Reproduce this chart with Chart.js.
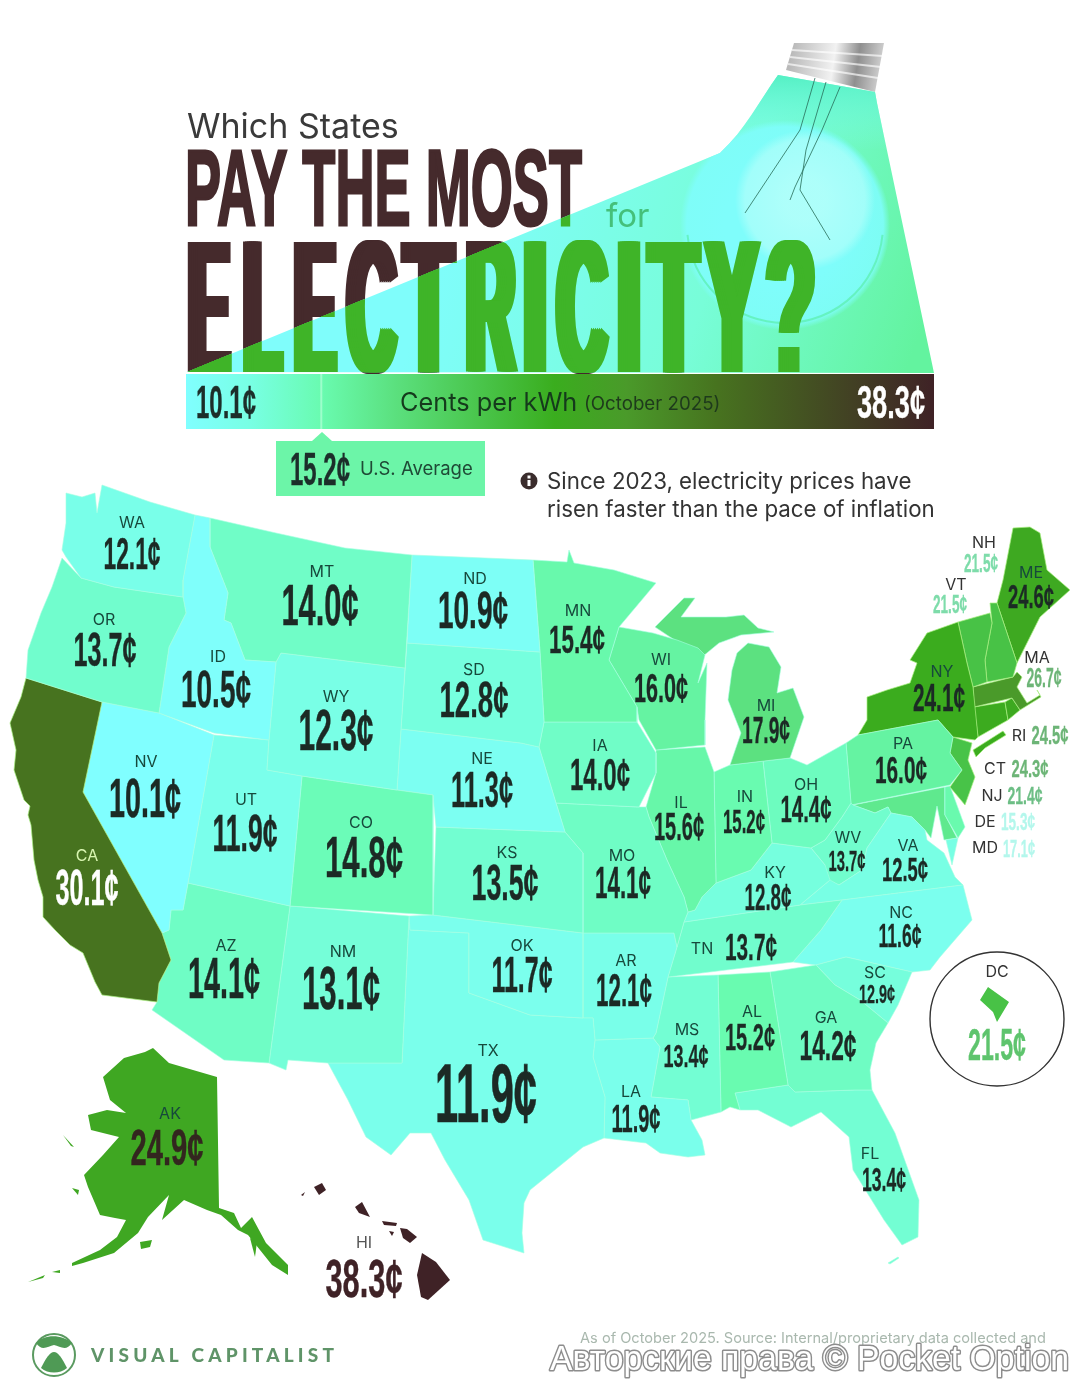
<!DOCTYPE html>
<html>
<head>
<meta charset="utf-8">
<title>Which States Pay the Most for Electricity?</title>
<script src="https://cdn.jsdelivr.net/npm/chart.js@4"></script>
<style>
  html, body { margin: 0; padding: 0; background: #fff; }
  canvas { display: block; }
</style>
</head>
<body>
<canvas id="mapChart" width="1080" height="1379"></canvas>
<script>
// cents per kWh, October 2025
const stateCodes = ['WA','OR','CA','ID','NV','MT','WY','UT','CO','AZ','NM','ND','SD','NE','KS','OK','TX','MN','IA','MO','AR','LA','WI','MI','IL','IN','OH','KY','TN','MS','AL','GA','FL','SC','NC','VA','WV','PA','NY','VT','NH','ME','MA','RI','CT','NJ','DE','MD','AK','HI','DC']
const prices = [12.1,13.7,30.1,10.5,10.1,14.0,12.3,11.9,14.8,14.1,13.1,10.9,12.8,11.3,13.5,11.7,11.9,15.4,14.0,14.1,12.1,11.9,16.0,17.9,15.6,15.2,14.4,12.8,13.7,13.4,15.2,14.2,13.4,12.9,11.6,12.5,13.7,16.0,24.1,21.5,21.5,24.6,26.7,24.5,24.3,21.4,15.3,17.1,24.9,38.3,21.5]
const usAverage = 15.2
const minPrice = 10.1
const maxPrice = 38.3

// legend colour ramp: price, colour
const rampPrices = [10.1, 12.5, 15.2, 18, 24, 26.7, 30.1, 38.3]
const rampColors = ['#80ffff','#78ffe4','#69fbb0','#5be07e','#3aad1e','#4a9a2a','#47731f','#3f2226']

// state outlines, in map units
const outlines = {
  WA: [[66,493,82,497,95,493,97,513,102,485,150,502,195,515,183,580,183,597,155,593,114,587,81,578,66,557,62,550,66,523]],
  OR: [[62,558,81,578,114,587,155,593,183,597,186,613,169,647,159,713,102,702,26,678,28,650,41,613,52,587]],
  CA: [[26,678,102,702,83,792,162,933,171,960,159,983,157,1002,102,995,95,982,83,953,70,945,55,930,43,917,43,897,38,880,34,860,31,825,28,815,30,806,24,800,14,770,16,750,10,723,21,697]],
  ID: [[195,515,210,518,210,547,228,593,224,620,231,623,245,660,276,662,269,740,214,733,159,713,169,647,186,613,183,597,183,580]],
  NV: [[102,702,159,713,214,735,188,883,183,910,171,910,169,930,162,933,83,792]],
  MT: [[210,518,276,533,345,548,412,555,405,668,281,653,276,662,245,660,231,623,224,620,228,593,210,547]],
  WY: [[281,653,405,668,397,790,302,776,267,770,269,740,276,662]],
  UT: [[214,735,269,740,267,770,302,776,290,906,188,883]],
  CO: [[302,776,397,790,433,795,433,915,290,906]],
  AZ: [[188,883,290,906,269,1063,224,1060,152,1010,157,1002,159,983,171,960,162,933,169,930,171,910,183,910]],
  NM: [[290,906,409,916,402,1063,328,1063,288,1060,286,1070,269,1063]],
  ND: [[412,555,533,560,540,652,407,643]],
  SD: [[407,643,540,652,544,722,539,747,521,743,401,729]],
  NE: [[401,729,521,743,539,747,556,803,565,832,436,827,433,795,397,790]],
  KS: [[436,827,565,832,583,853,583,933,433,915]],
  OK: [[409,916,433,915,583,933,583,1018,530,1015,469,993,469,933,410,930]],
  TX: [[410,930,469,933,469,993,530,1015,583,1018,593,1018,595,1040,593,1057,605,1097,604,1138,583,1147,551,1173,530,1190,524,1203,522,1233,524,1253,483,1240,469,1200,445,1160,431,1133,410,1133,391,1155,366,1137,348,1100,328,1063,402,1063,409,916]],
  MN: [[533,560,567,562,569,550,574,563,614,570,656,583,619,627,609,660,637,707,637,722,544,722,540,652]],
  IA: [[544,722,637,722,656,753,656,773,639,807,556,803,539,747]],
  MO: [[556,803,639,807,646,807,649,817,667,860,684,897,688,912,684,922,677,947,674,933,583,933,583,853,565,832]],
  AR: [[583,933,674,933,677,947,668,977,656,1033,653,1038,595,1040,593,1018,583,1018]],
  LA: [[595,1040,653,1038,660,1047,651,1097,688,1100,691,1120,702,1140,705,1155,688,1157,660,1153,646,1143,604,1138,605,1097,593,1057]],
  WI: [[619,627,653,633,677,640,698,648,705,655,698,683,707,663,705,720,705,745,656,750,639,720,637,707,609,660]],
  MI: [[655,627,684,598,695,598,681,617,726,617,744,615,758,628,774,632,741,635,719,643,702,657,670,637],
       [748,643,769,647,781,667,777,693,793,688,804,717,790,758,730,765,741,733,728,700,732,670,737,653]],
  IL: [[656,750,705,747,714,772,716,883,702,897,695,910,688,912,684,897,667,860,649,817,646,807,656,773]],
  IN: [[714,772,730,765,763,761,772,843,751,870,716,883]],
  OH: [[763,761,790,758,807,765,846,743,851,803,842,817,825,840,811,848,772,843]],
  KY: [[702,897,716,883,751,870,772,843,811,848,825,865,830,880,800,905,684,922,688,912,695,910]],
  TN: [[684,922,800,905,842,900,821,930,793,962,668,977,677,947]],
  MS: [[668,977,718,975,721,1112,691,1120,688,1100,651,1097,660,1047,653,1038,656,1033]],
  AL: [[718,975,770,972,788,1085,735,1093,740,1110,730,1107,721,1112]],
  GA: [[770,972,816,965,835,985,860,1000,888,1023,876,1043,870,1070,872,1090,855,1090,795,1092,788,1085]],
  FL: [[735,1093,788,1085,795,1092,855,1090,872,1090,895,1133,919,1200,918,1237,902,1245,884,1220,853,1170,849,1137,821,1112,791,1127,758,1110,740,1110],
       [888,1263,898,1257,899,1258,890,1264]],
  SC: [[816,965,846,957,912,972,898,1005,888,1023,860,1000,835,985]],
  NC: [[842,900,963,885,972,920,940,957,930,970,912,972,846,957,816,965,793,962,821,930]],
  VA: [[891,813,912,817,925,830,927,840,944,853,955,877,963,885,842,900,800,905,830,880,839,885,862,870,867,848],
       [946,840,958,838,952,865]],
  WV: [[851,803,853,805,875,813,888,807,891,813,867,848,862,870,839,885,821,877,825,865,811,848,825,840,842,817]],
  PA: [[846,743,858,735,938,720,953,737,950,753,962,770,950,785,851,805]],
  NY: [[858,735,867,720,867,697,887,690,910,683,917,663,910,660,927,633,958,622,967,663,973,687,978,737,975,740,953,737,938,720],
       [973,750,1003,731,1006,735,985,748,976,757]],
  VT: [[958,622,990,613,992,623,985,660,987,682,973,687,967,663]],
  NH: [[990,603,997,603,1017,663,1013,677,987,682,985,660,992,623]],
  ME: [[1013,528,1030,527,1040,533,1047,570,1070,590,1040,617,1017,663,997,603,1003,580]],
  MA: [[973,687,1013,677,1017,672,1022,677,1017,687,1027,703,1040,695,1037,690,1041,697,1020,710,1012,698,974,707]],
  RI: [[1005,702,1012,698,1020,710,1008,720]],
  CT: [[974,707,1005,702,1008,720,978,737]],
  NJ: [[953,737,972,743,968,760,975,777,965,805,950,787,962,770,950,753]],
  DE: [[945,787,950,786,965,827,958,838,945,815]],
  MD: [[853,805,945,787,945,815,957,838,944,840,937,806,931,838,925,830,912,817,891,813,888,807,875,813]],
  AK: [[153,1048,169,1063,217,1077,219,1208,234,1213,241,1228,252,1217,266,1243,288,1265,288,1275,272,1265,248,1235,238,1230,221,1215,207,1210,184,1200,162,1220,169,1195,148,1217,138,1233,114,1253,83,1263,72,1266,72,1263,100,1250,117,1237,126,1220,115,1218,100,1215,88,1187,84,1175,103,1155,119,1137,91,1130,88,1115,107,1110,126,1113,110,1100,103,1077,124,1058,145,1052],
       [140,1242,152,1240,150,1247,141,1249],[52,1272,60,1270,60,1273],[28,1282,45,1275,43,1278],[63,1135,74,1147,71,1146],[72,1188,79,1190,78,1195],[250,1238,257,1242,255,1257]],
  HI: [[422,1253,436,1262,450,1280,428,1300,421,1297,417,1275],[400,1228,407,1229,417,1237,410,1243,403,1238],[382,1221,397,1223,396,1226,384,1225],[355,1207,362,1202,370,1217,359,1213],[314,1187,322,1183,326,1190,319,1195],[301,1195,305,1192,303,1196],[389,1231,394,1232,392,1236]],
  DC: [[988,987,1009,1002,997,1022,993,1012,980,1000]]
}

// name x, name y, value x, value baseline, digit height, text width
const labelLayout = {
  WA:[132,522,132,569,31,57], OR:[104,619,105,666,33,63], ID:[218,656,216,707,36,70], MT:[322,571,320,625,39,77],
  ND:[475,578,473,628,36,70], SD:[474,669,474,717,35,69], WY:[336,696,336,750,39,75], NE:[482,758,482,807,34,62],
  NV:[146,761,145,817,38,72], UT:[246,799,245,851,36,65], CO:[361,822,364,877,40,78], KS:[507,852,505,900,35,67],
  CA:[87,855,87,905,34,63], AZ:[226,945,224,998,40,72], NM:[343,951,341,1009,42,78], OK:[522,945,522,992,34,61],
  TX:[488,1050,486,1122,57,102], MN:[578,610,577,653,27,56], IA:[600,745,600,790,30,60], WI:[661,659,661,702,28,54],
  MI:[766,705,766,743,26,48], IL:[681,802,679,840,27,50], IN:[745,796,744,833,23,42], OH:[806,784,806,822,25,51],
  MO:[622,855,623,898,30,56], KY:[775,872,768,910,25,47], WV:[848,837,847,871,20,37], VA:[908,845,905,881,23,46],
  PA:[903,743,901,783,26,52], NC:[901,912,900,947,23,43], TN:[702,948,751,960,26,52], AR:[626,960,624,1006,32,56],
  SC:[875,972,877,1003,18,36], AL:[752,1011,750,1050,26,50], GA:[826,1017,828,1060,29,57], MS:[687,1029,686,1067,22,45],
  LA:[631,1091,636,1132,27,49], FL:[870,1153,884,1191,23,44], AK:[170,1113,167,1165,35,73], HI:[364,1242,364,1297,37,77],
  DC:[997,971,997,1060,30,58], NH:[984,542,981,572,18,34], VT:[956,584,950,613,18,34], ME:[1031,572,1031,608,23,46],
  NY:[942,671,939,711,27,52], MA:[1037,657,1044,687,19,35], RI:[1019,735,1050,744,18,37], CT:[995,768,1030,777,17,37],
  NJ:[992,795,1025,804,17,35], DE:[985,821,1018,830,16,34], MD:[985,847,1019,857,16,32]
}
// text colours that differ from the default dark one
const valueColors = {CA:'#ffffff',HI:'#3f2226',AK:'#33261f',DC:'#5ec46d',NH:'#7edcaa',VT:'#7edcaa',MA:'#6db577',RI:'#6db577',CT:'#6db577',NJ:'#6dbe85',DE:'#b4f7ec',MD:'#b4f7ec'}
const nameColors = {CA:'#d8f5b0',HI:'#555',DC:'#333',NH:'#333',VT:'#333',MA:'#333',RI:'#333',CT:'#333',NJ:'#333',DE:'#333',MD:'#333'}

// big title letters: glyph, left, right
const titleLetters = [['E',186,232],['L',241,284],['E',292,338],['C',345,398],['T',402,455],['R',464,517],['I',525,545],['C',555,609],['I',619,639],['T',647,700],['Y',704,760],['?',764,817]]

function hexToRgb(h){
  return [parseInt(h.slice(1,3),16),parseInt(h.slice(3,5),16),parseInt(h.slice(5,7),16)]
}
function colorFor(price){
  let i = 0
  while(i < rampPrices.length-2 && price > rampPrices[i+1]) i++
  const t = Math.min(1,Math.max(0,(price-rampPrices[i])/(rampPrices[i+1]-rampPrices[i])))
  const a = hexToRgb(rampColors[i]), b = hexToRgb(rampColors[i+1])
  return 'rgb('+a.map((v,k)=>Math.round(v+(b[k]-v)*t)).join(',')+')'
}

const datasets = []
stateCodes.forEach((code,idx)=>{
  outlines[code].forEach(flat=>{
    const pts = []
    for(let i=0;i<flat.length;i+=2) pts.push({x:flat[i],y:flat[i+1]})
    pts.push(pts[0])
    const isLight = prices[idx] < 20
    datasets.push({
      label: code,
      data: pts,
      showLine: true,
      fill: 'shape',
      backgroundColor: colorFor(prices[idx]),
      borderColor: isLight ? 'rgba(165,255,225,0.6)' : 'rgba(170,240,130,0.7)',
      borderWidth: (code=='DC'||code=='HI'||code=='AK') ? 0 : 1,
      pointRadius: 0,
      tension: 0
    })
  })
})

const narrow = '"Liberation Sans Narrow","Liberation Sans",sans-serif'
const soft = 'Inter,"Open Sans",sans-serif'

function valueText(ctx,text,x,base,h,w,color){
  ctx.font = 'bold '+(h/0.69).toFixed(1)+'px '+narrow
  ctx.textAlign = 'center'
  ctx.textBaseline = 'alphabetic'
  ctx.fillStyle = color
  ctx.strokeStyle = color
  ctx.lineWidth = Math.max(0.3,h*0.012)
  ctx.fillText(text,x,base,w)
  ctx.strokeText(text,x,base,w)
}

function softText(ctx,text,x,y,size,color,align,weight){
  ctx.font = (weight||400)+' '+size+'px '+soft
  ctx.textAlign = align||'left'
  ctx.textBaseline = 'alphabetic'
  ctx.fillStyle = color
  ctx.fillText(text,x,y)
}

function titleWords(ctx,color){
  ctx.font = 'bold 108px '+narrow
  ctx.textAlign = 'left'
  ctx.fillStyle = color
  ctx.strokeStyle = color
  ctx.lineWidth = 3
  ctx.lineJoin = 'miter'
  ctx.fillText('PAY THE MOST',185,225,397)
  ctx.strokeText('PAY THE MOST',185,225,397)
  // each letter sits in its own slot, smeared sideways to get the heavy stems
  ctx.font = 'bold 189px '+narrow
  ctx.textAlign = 'center'
  titleLetters.forEach(l=>{
    const mid = (l[1]+l[2])/2
    const fit = l[0]=='I' ? 24 : (l[2]-l[1]-10)*1.12
    for(let dx=-5;dx<=5;dx+=2) ctx.fillText(l[0],mid+dx,372,fit)
  })
  ctx.textAlign = 'left'
}

function beamPath(ctx){
  ctx.beginPath()
  ctx.moveTo(187,372)
  ctx.lineTo(720,153)
  ctx.bezierCurveTo(745,130,760,100,778,75)
  ctx.lineTo(875,92)
  ctx.lineTo(877,103)
  ctx.lineTo(934,373)
  ctx.closePath()
}

// header artwork: bulb, beam, title, legend bar
const headerPlugin = {
  id:'header',
  beforeDatasetsDraw(chart){
    const ctx = chart.ctx
    ctx.save()
    softText(ctx,'Which States',187,138,34,'#3a3a3a')
    titleWords(ctx,'#452a2c')

    // lamp cap
    const cap = ctx.createLinearGradient(790,60,885,75)
    cap.addColorStop(0,'#b9b9b9'); cap.addColorStop(.45,'#f2f2f2'); cap.addColorStop(.7,'#8f8f8f'); cap.addColorStop(1,'#dcdcdc')
    ctx.fillStyle = cap
    ctx.beginPath()
    ctx.moveTo(794,43); ctx.lineTo(884,43); ctx.lineTo(875,92); ctx.lineTo(786,70)
    ctx.closePath(); ctx.fill()
    ctx.strokeStyle = 'rgba(255,255,255,.65)'; ctx.lineWidth = 2
    ctx.beginPath()
    ctx.moveTo(792,50); ctx.lineTo(883,56)
    ctx.moveTo(790,57); ctx.lineTo(881,67)
    ctx.moveTo(788,64); ctx.lineTo(878,78)
    ctx.stroke()

    // beam and glass
    const beam = ctx.createLinearGradient(450,230,900,390)
    beam.addColorStop(0,'#7ffdfb'); beam.addColorStop(.55,'#78fdd8'); beam.addColorStop(1,'#63f39f')
    ctx.fillStyle = beam
    beamPath(ctx); ctx.fill()
    ctx.save()
    beamPath(ctx); ctx.clip()
    const top = ctx.createLinearGradient(0,75,0,150)
    top.addColorStop(0,'#55f0c4'); top.addColorStop(1,'rgba(127,253,240,0)')
    ctx.fillStyle = top
    ctx.fillRect(700,70,240,90)
    const glass = ctx.createRadialGradient(785,225,60,785,225,105)
    glass.addColorStop(0,'rgba(127,253,251,1)'); glass.addColorStop(.85,'rgba(127,253,251,.9)'); glass.addColorStop(1,'rgba(127,253,251,0)')
    ctx.fillStyle = glass
    ctx.beginPath(); ctx.arc(785,225,105,0,Math.PI*2); ctx.fill()
    const patch = ctx.createRadialGradient(805,200,20,805,200,70)
    patch.addColorStop(0,'rgba(185,255,250,.8)'); patch.addColorStop(.8,'rgba(185,255,250,.6)'); patch.addColorStop(1,'rgba(185,255,250,0)')
    ctx.fillStyle = patch
    ctx.beginPath(); ctx.arc(805,200,70,0,Math.PI*2); ctx.fill()
    // only the lower half of the glass shows an edge
    ctx.strokeStyle = 'rgba(95,240,180,.8)'; ctx.lineWidth = 2
    ctx.beginPath(); ctx.arc(785,225,98,0.1,Math.PI-0.1); ctx.stroke()
    titleWords(ctx,'#3fb428')
    ctx.restore()

    // filament wires
    ctx.strokeStyle = 'rgba(40,110,90,.8)'; ctx.lineWidth = 1
    ctx.beginPath()
    ctx.moveTo(815,78); ctx.lineTo(800,130); ctx.lineTo(745,213)
    ctx.moveTo(840,87); ctx.lineTo(822,130); ctx.lineTo(795,187); ctx.lineTo(790,200)
    ctx.moveTo(826,82); ctx.lineTo(806,150); ctx.lineTo(800,190); ctx.lineTo(830,240)
    ctx.stroke()

    softText(ctx,'for',606,227,33,'#45c07a')

    // legend bar
    const bar = ctx.createLinearGradient(186,0,934,0)
    rampPrices.forEach((p,i)=>bar.addColorStop((p-minPrice)/(maxPrice-minPrice),rampColors[i]))
    ctx.fillStyle = bar
    ctx.fillRect(186,374,748,55)
    ctx.fillStyle = 'rgba(170,255,210,.8)'
    const avgX = 186+748*(usAverage-minPrice)/(maxPrice-minPrice)
    ctx.fillRect(avgX-1,374,2,55)
    valueText(ctx,minPrice.toFixed(1)+'¢',226,418,32,60,'#1c2e2a')
    valueText(ctx,maxPrice.toFixed(1)+'¢',891,418,32,68,'#ffffff')
    softText(ctx,'Cents per kWh',400,411,25.3,'#153a1c')
    softText(ctx,'(October 2025)',584,410,18.7,'#1e3a1c')

    // average tag
    ctx.fillStyle = '#6cf5a8'
    ctx.fillRect(276,441,209,55)
    ctx.beginPath(); ctx.moveTo(312,441); ctx.lineTo(322,432); ctx.lineTo(332,441); ctx.fill()
    valueText(ctx,usAverage.toFixed(1)+'¢',320,485,32,60,'#1c2e2a')
    softText(ctx,'U.S. Average',360,475,18.5,'#1f4a36')

    // note
    ctx.fillStyle = '#3a2c2c'
    ctx.beginPath(); ctx.arc(529,481,8.5,0,Math.PI*2); ctx.fill()
    ctx.fillStyle = '#fff'
    ctx.fillRect(527.5,480,3,6); ctx.fillRect(527.5,475.5,3,3)
    softText(ctx,'Since 2023, electricity prices have',547,489,22.3,'#333')
    softText(ctx,'risen faster than the pace of inflation',547,517,22.3,'#333')

    // DC inset circle
    const xs = chart.scales.x, ys = chart.scales.y
    ctx.strokeStyle = '#333'; ctx.lineWidth = 1.4
    ctx.beginPath(); ctx.arc(xs.getPixelForValue(997),ys.getPixelForValue(1019),67,0,Math.PI*2); ctx.stroke()
    ctx.restore()
  },
  afterDatasetsDraw(chart){
    const ctx = chart.ctx, xs = chart.scales.x, ys = chart.scales.y
    ctx.save()
    stateCodes.forEach((code,i)=>{
      const l = labelLayout[code]
      softText(ctx,code,xs.getPixelForValue(l[0]),ys.getPixelForValue(l[1])+6,16,nameColors[code]||'#17493c','center')
      valueText(ctx,prices[i].toFixed(1)+'¢',xs.getPixelForValue(l[2]),ys.getPixelForValue(l[3]),l[4],l[5],valueColors[code]||'#1c2a25')
    })

    // logo
    ctx.strokeStyle = '#5a9a60'; ctx.lineWidth = 2
    ctx.beginPath(); ctx.arc(54,1355,21,0,Math.PI*2); ctx.stroke()
    ctx.fillStyle = '#4f9a55'
    ctx.beginPath()
    ctx.moveTo(36,1343)
    ctx.bezierCurveTo(44,1334,62,1334,72,1343)
    ctx.bezierCurveTo(66,1352,60,1346,54,1345)
    ctx.bezierCurveTo(48,1346,42,1352,36,1343)
    ctx.fill()
    ctx.beginPath()
    ctx.moveTo(41,1368)
    ctx.bezierCurveTo(46,1358,50,1352,54,1352)
    ctx.bezierCurveTo(58,1352,62,1358,67,1368)
    ctx.bezierCurveTo(60,1374,48,1374,41,1368)
    ctx.fill()
    ctx.font = '900 19px Lato,'+soft
    ctx.letterSpacing = '4.2px'
    ctx.textAlign = 'left'
    ctx.fillStyle = '#5f9468'
    ctx.fillText('VISUAL CAPITALIST',91,1362)
    ctx.letterSpacing = '0px'

    // source and watermark
    softText(ctx,'As of October 2025. Source: Internal/proprietary data collected and',580,1343,14.6,'#a9b8ae')
    ctx.font = '35px "Liberation Sans",sans-serif'
    ctx.textAlign = 'left'
    ctx.fillStyle = '#ffffff'
    ctx.strokeStyle = '#8d8d8d'
    ctx.lineWidth = 3
    ctx.lineJoin = 'round'
    ctx.strokeText('Авторские права © Pocket Option',550,1370,519)
    ctx.fillText('Авторские права © Pocket Option',550,1370,519)
    ctx.restore()
  }
}

const mapChart = new Chart(document.getElementById('mapChart'),{
  type:'scatter',
  data:{datasets:datasets},
  options:{
    responsive:false,
    animation:false,
    devicePixelRatio:1,
    layout:{padding:0},
    plugins:{legend:{display:false},tooltip:{enabled:false}},
    scales:{
      x:{type:'linear',min:0,max:1080,display:false},
      y:{type:'linear',min:0,max:1379,reverse:true,display:false}
    }
  },
  plugins:[headerPlugin]
})
</script>
</body>
</html>
